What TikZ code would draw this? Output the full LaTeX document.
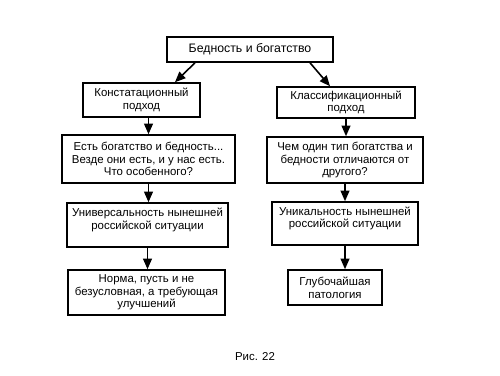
\documentclass[tikz,border=0pt]{standalone}
\usepackage{fontspec}
\setmainfont{Liberation Sans}
\usetikzlibrary{arrows.meta}
\tikzset{
  box/.style={draw, line width=0.9pt, align=center, inner sep=1pt,
    font=\fontsize{6.5}{7.2}\selectfont},
  arr/.style={-{Triangle[length=6pt,width=5pt]}, line width=0.9pt}
}
\begin{document}
\begin{tikzpicture}
\useasboundingbox (0,0) rectangle (10,7.5);
% top
\node[box, minimum width=3.32cm, minimum height=0.5cm, font=\fontsize{7}{8}\selectfont] (bed) at (5.0,6.51) {Бедность и богатство};
% left column
\node[box, minimum width=2.34cm, minimum height=0.68cm] (konst) at (2.83,5.5) {Констатационный\\подход};
\node[box, minimum width=3.46cm, minimum height=0.96cm] (est) at (2.97,4.32) {Есть богатство и бедность...\\Везде они есть, и у нас есть.\\Что особенного?};
\node[box, minimum width=3.22cm, minimum height=0.88cm] (univ) at (2.95,3.0) {Универсальность нынешней\\российской ситуации\\\mbox{}};
\node[box, minimum width=3.14cm, minimum height=0.9cm] (norma) at (2.93,1.65) {Норма, пусть и не\\безусловная, а требующая\\улучшений};
% right column
\node[box, minimum width=2.76cm, minimum height=0.62cm] (klass) at (6.92,5.45) {Классификационный\\подход};
\node[box, minimum width=3.12cm, minimum height=0.92cm] (chem) at (6.9,4.3) {Чем один тип богатства и\\бедности отличаются от\\другого?};
\node[box, minimum width=2.92cm, minimum height=0.86cm] (unik) at (6.9,3.03) {Уникальность нынешней\\российской ситуации\\\mbox{}};
\node[box, minimum width=1.88cm, minimum height=0.7cm] (glub) at (6.7,1.75) {Глубочайшая\\патология};
% caption
\node[font=\fontsize{6.5}{7.2}\selectfont] (ris) at (5.1,0.36) {Рис. 22};
% arrows
\draw[arr] ([xshift=-1.1cm]bed.south) -- ([xshift=0.67cm]konst.north);
\draw[arr] ([xshift=1.2cm]bed.south) -- ([xshift=-0.32cm]klass.north);
\draw[arr] (konst.south -| est.north) -- (est.north);
\draw[arr] (est.south) -- (est.south |- univ.north);
\draw[arr] (univ.south) -- (univ.south |- norma.north);
\draw[arr] (klass.south) -- (klass.south |- chem.north);
\draw[arr] (chem.south) -- (chem.south |- unik.north);
\draw[arr] (unik.south) -- (unik.south |- glub.north);
\end{tikzpicture}
\end{document}
